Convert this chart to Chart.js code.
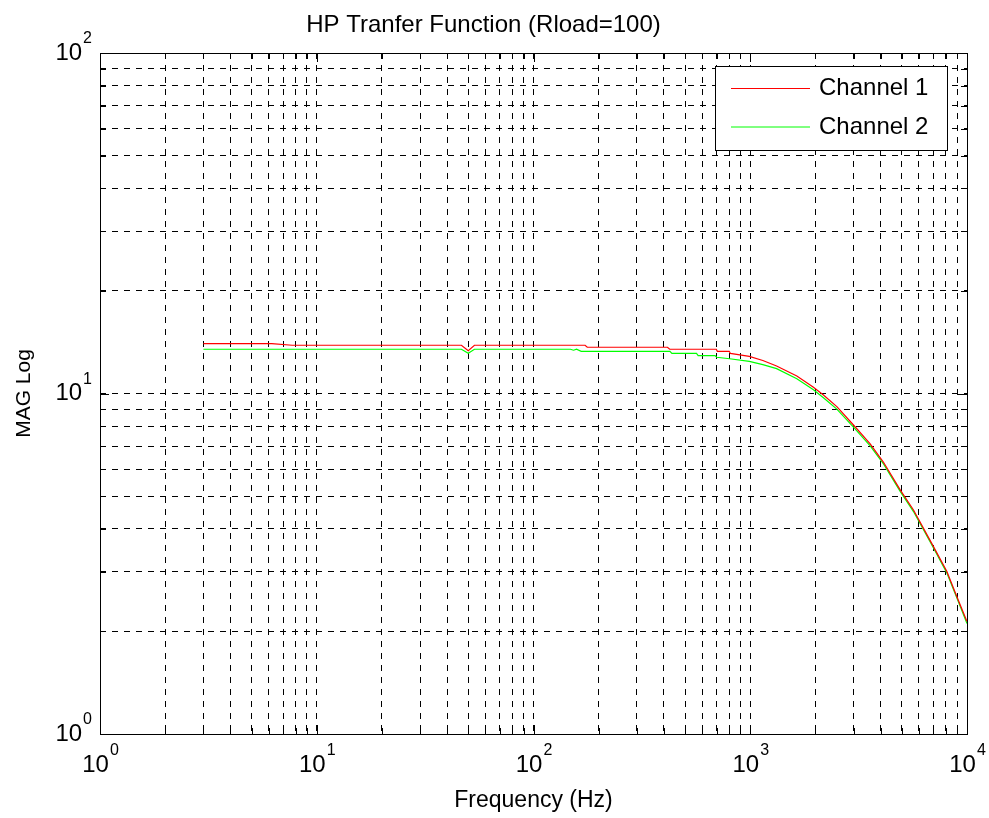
<!DOCTYPE html>
<html>
<head>
<meta charset="utf-8">
<script src="https://cdn.jsdelivr.net/npm/chart.js@4.4.0/dist/chart.umd.min.js"></script>
<style>
  html, body { margin: 0; padding: 0; background: #fff; }
</style>
</head>
<body>
<canvas id="chart" width="989" height="818"></canvas>
<script>
const freqCh1 = [3, 6.2, 7.7, 46.5, 50, 53.4, 173, 177, 415, 425, 697, 705, 800, 810, 990, 1143, 1323, 1640, 1957, 2176, 2509, 2994, 3575, 4119, 4918, 5664, 7005, 8076, 8983, 10000];
const magCh1 = [14.01, 14.01, 13.86, 13.86, 13.36, 13.86, 13.86, 13.67, 13.67, 13.49, 13.49, 13.30, 13.30, 13.11, 12.85, 12.50, 12.05, 11.26, 10.43, 9.90, 9.15, 8.08, 7.11, 6.28, 5.21, 4.55, 3.55, 3.00, 2.53, 2.14];
const freqCh2 = [3, 46.5, 50, 53.4, 148, 153, 158, 166, 426, 435, 565, 575, 688, 700, 803, 990, 1143, 1323, 1640, 1957, 2176, 2509, 2994, 3575, 4119, 4918, 5664, 7005, 8076, 8983, 10000];
const magCh2 = [13.49, 13.49, 13.13, 13.49, 13.49, 13.40, 13.49, 13.30, 13.30, 13.11, 13.11, 12.92, 12.92, 12.78, 12.65, 12.43, 12.15, 11.83, 11.05, 10.25, 9.72, 9.00, 7.97, 7.02, 6.21, 5.16, 4.50, 3.52, 2.97, 2.51, 2.11];

const seriesNames = ['Channel 1', 'Channel 2'];
const seriesColors = ['#ff0000', '#00ff00'];

// axis decades and tick labels (10^exp)
const xDecades = [1, 10, 100, 1000, 10000];
const xTickExps = ['0', '1', '2', '3', '4'];
const yDecades = [1, 10, 100];
const yTickExps = ['0', '1', '2'];
const minorSteps = [2, 3, 4, 5, 6, 7, 8, 9];

const FONT = '"Liberation Sans", Arial, Helvetica, sans-serif';

// all grid positions: decades plus 2..9 inside each decade
function logTicks(decades) {
    var out = [];
    for (var i = 0; i < decades.length; i++) {
        out.push(decades[i]);
        if (i < decades.length - 1) {
            minorSteps.forEach(function(m) { out.push(decades[i] * m); });
        }
    }
    return out.sort(function(a, b) { return a - b; });
}

function toPoints(xs, ys) {
    return xs.map(function(x, i) { return {x: x, y: ys[i]}; });
}

// draws "10" with a raised exponent
function drawPow(ctx, exp, x, y, align) {
    ctx.font = '24px ' + FONT;
    var w1 = ctx.measureText('10').width;
    ctx.font = '16px ' + FONT;
    var w2 = ctx.measureText(exp).width;
    var x0 = align === 'right' ? x - w1 - w2 - 1 : x - (w1 + w2) / 2;
    ctx.textAlign = 'left';
    ctx.textBaseline = 'middle';
    ctx.font = '24px ' + FONT;
    ctx.fillText('10', x0, y);
    ctx.font = '16px ' + FONT;
    ctx.fillText(exp, x0 + w1 + 1, y - 14);
}

// matlab style box, inward ticks, tick labels and legend
const matlabAxes = {
    id: 'matlabAxes',
    afterDraw: function(chart) {
        var ctx = chart.ctx;
        var a = chart.chartArea;
        var xs = chart.scales.x, ys = chart.scales.y;
        ctx.save();
        ctx.setLineDash([]);
        ctx.strokeStyle = '#000';
        ctx.lineWidth = 1;

        // inward ticks on all 4 sides
        ctx.beginPath();
        logTicks(xDecades).forEach(function(v) {
            var px = Math.round(xs.getPixelForValue(v)) + 0.5;
            var len = xDecades.indexOf(v) >= 0 ? 9 : 6;
            ctx.moveTo(px, a.bottom); ctx.lineTo(px, a.bottom - len);
            ctx.moveTo(px, a.top); ctx.lineTo(px, a.top + len);
        });
        logTicks(yDecades).forEach(function(v) {
            var py = Math.round(ys.getPixelForValue(v)) + 0.5;
            var len = yDecades.indexOf(v) >= 0 ? 9 : 6;
            ctx.moveTo(a.left, py); ctx.lineTo(a.left + len, py);
            ctx.moveTo(a.right, py); ctx.lineTo(a.right - len, py);
        });
        ctx.stroke();

        // box
        ctx.strokeRect(a.left + 0.5, a.top + 0.5, a.right - a.left, a.bottom - a.top);

        // tick labels
        ctx.fillStyle = '#000';
        xDecades.forEach(function(v, i) {
            drawPow(ctx, xTickExps[i], xs.getPixelForValue(v), a.bottom + 31, 'center');
        });
        yDecades.forEach(function(v, i) {
            drawPow(ctx, yTickExps[i], a.left - 8, ys.getPixelForValue(v), 'right');
        });

        // legend box
        var lx = 715, ly = 66, lw = 232, lh = 84;
        ctx.fillStyle = '#fff';
        ctx.fillRect(lx, ly, lw, lh);
        ctx.strokeRect(lx + 0.5, ly + 0.5, lw, lh);
        seriesNames.forEach(function(name, i) {
            var y = ly + 22.5 + i * 38.5;
            ctx.strokeStyle = seriesColors[i];
            ctx.beginPath();
            ctx.moveTo(lx + 16, y); ctx.lineTo(lx + 95, y);
            ctx.stroke();
            ctx.fillStyle = '#000';
            ctx.font = '24px ' + FONT;
            ctx.textAlign = 'left';
            ctx.textBaseline = 'middle';
            ctx.fillText(name, lx + 104, y);
        });
        ctx.restore();
    }
};

var ctx = document.getElementById('chart').getContext('2d');
var myChart = new Chart(ctx, {
    type: 'line',
    data: {
        datasets: [{
            label: seriesNames[0],
            data: toPoints(freqCh1, magCh1),
            borderColor: seriesColors[0],
            borderWidth: 1.2,
            pointRadius: 0,
            tension: 0,
            fill: false
        }, {
            label: seriesNames[1],
            data: toPoints(freqCh2, magCh2),
            borderColor: seriesColors[1],
            borderWidth: 1.2,
            pointRadius: 0,
            tension: 0,
            fill: false
        }]
    },
    options: {
        responsive: false,
        animation: false,
        layout: { padding: { left: 0, top: 0, right: 22, bottom: 0 } },
        plugins: {
            legend: { display: false },
            tooltip: { enabled: false },
            title: {
                display: true,
                text: 'HP Tranfer Function (Rload=100)',
                color: '#000',
                font: { family: FONT, size: 24, weight: 'normal' },
                padding: { top: 11, bottom: 13.2 }
            }
        },
        scales: {
            x: {
                type: 'logarithmic',
                min: 1,
                max: 10000,
                afterBuildTicks: function(scale) {
                    scale.ticks = logTicks(xDecades).map(function(v) { return {value: v}; });
                },
                afterFit: function(scale) { scale.height = 84; },
                ticks: { display: false },
                grid: { color: '#000', lineWidth: 1, drawTicks: false },
                border: { display: false, dash: [6, 6] },
                title: {
                    display: true,
                    text: 'Frequency (Hz)',
                    color: '#000',
                    font: { family: FONT, size: 23 },
                    padding: { top: 0, bottom: 4 }
                }
            },
            y: {
                type: 'logarithmic',
                min: 1,
                max: 100,
                afterBuildTicks: function(scale) {
                    scale.ticks = logTicks(yDecades).map(function(v) { return {value: v}; });
                },
                afterFit: function(scale) { scale.width = 100; },
                ticks: { display: false },
                grid: { color: '#000', lineWidth: 1, drawTicks: false },
                border: { display: false, dash: [6, 6] },
                title: {
                    display: true,
                    text: 'MAG Log',
                    color: '#000',
                    font: { family: FONT, size: 21 },
                    padding: { top: 12, bottom: 0 }
                }
            }
        }
    },
    plugins: [matlabAxes]
});
</script>
</body>
</html>
